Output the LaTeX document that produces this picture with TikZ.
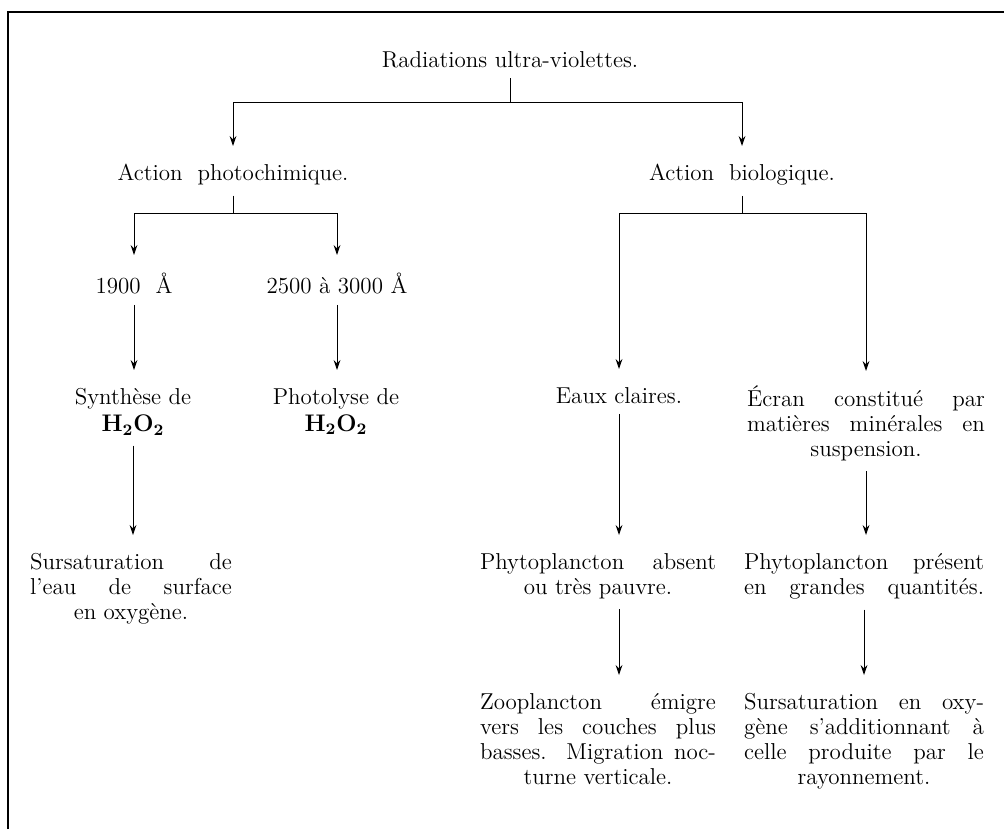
\documentclass[tikz,border=0pt]{standalone}
\usepackage{amsmath}
\usepackage{tikz}
\usetikzlibrary{arrows.meta}

% derniere ligne centree dans un bloc justifie
\newcommand{\milieu}[1]{\makebox[\hsize][c]{#1}}

\begin{document}
\begin{tikzpicture}[x=0.5pt, y=-0.5pt,
    txt/.style={anchor=north, inner sep=0pt, font=\fontsize{11.5}{12.5}\selectfont},
    blk/.style={txt, align=justify, text width=#1,
      execute at begin node={\tolerance=10000 \hbadness=10000}},
    lien/.style={line width=0.5pt},
    fleche/.style={lien, -{Stealth[length=5pt, width=3.4pt]}, shorten >=9pt},
    de/.style={shorten <=5pt}]
  \useasboundingbox (0,0) rectangle (1004,829);
  % cadre
  \draw[line width=1.1pt] (8,829) -- (8,12) -- (1004,12);

  % textes
  \node[txt] (rad) at (510,51) {Radiations ultra-violettes.};
  \node[txt] (photo) at (233,164) {Action\ \ photochimique.};
  \node[txt] (bio) at (742,164) {Action\ \ biologique.};
  \node[txt] (a1900) at (134,273) {1900\ \ Å};
  \node[txt] (a2500) at (337,273) {2500 à 3000 Å};
  \node[txt, align=center] (synth) at (133,388) {Synthèse de\\[1pt]$\mathbf{H_2O_2}$};
  \node[txt, align=center] (photol) at (336,388) {Photolyse de\\[1pt]$\mathbf{H_2O_2}$};
  \node[blk=101pt] (sursatA) at (131,553) {Sursaturation de\linebreak l'eau de surface\linebreak\milieu{en oxygène.}};
  \node[txt] (eaux) at (619,387) {Eaux claires.};
  \node[blk=119pt] (ecran) at (866,385) {Écran constitué par\linebreak matières minérales en\linebreak\milieu{suspension.}};
  \node[blk=118pt] (phyA) at (598,553) {Phytoplancton absent\linebreak\milieu{ou très pauvre.}};
  \node[blk=120pt] (phyP) at (864,553) {Phytoplancton présent\linebreak\makebox[\hsize][s]{en grandes quantités.}};
  \node[blk=118pt] (zoo) at (598,693) {Zooplancton émigre\linebreak vers les couches plus\linebreak basses. Migration noc-\linebreak\milieu{turne verticale.}};
  \node[blk=120pt] (sursatB) at (864,693) {Sursaturation en oxy-\linebreak gène s'additionnant à\linebreak celle produite par le\linebreak\milieu{rayonnement.}};

  % embranchements
  \coordinate (j1) at (510,102);
  \coordinate (j2) at (233,213);
  \coordinate (j3) at (742,213);

  \draw[lien, de] (rad) -- (j1);
  \draw[lien] (j1 -| photo) -- (j1 -| bio);
  \draw[fleche] (j1 -| photo) -- (photo);
  \draw[fleche] (j1 -| bio) -- (bio);

  \draw[lien, de] (photo) -- (photo |- j2);
  \draw[lien] (j2 -| a1900) -- (j2 -| a2500);
  \draw[fleche] (j2 -| a1900) -- (a1900);
  \draw[fleche] (j2 -| a2500) -- (a2500);

  \draw[lien, de] (bio) -- (bio |- j3);
  \draw[lien] (j3 -| eaux) -- (j3 -| ecran);
  \draw[fleche] (j3 -| eaux) -- (eaux);
  \draw[fleche, shorten >=7pt] (j3 -| ecran) -- (ecran);

  \draw[fleche, de] (a1900) -- (a1900 |- synth.north);
  \draw[fleche, de] (a2500) -- (a2500 |- photol.north);
  \draw[fleche, de] (synth) -- (synth |- sursatA.north);
  \draw[fleche, de] (eaux) -- (eaux |- phyA.north);
  \draw[fleche, de] (ecran) -- (ecran |- phyP.north);
  \draw[fleche, de] (phyA.south -| eaux) -- (zoo.north -| eaux);
  \draw[fleche, de] (phyP) -- (phyP |- sursatB.north);
\end{tikzpicture}
\end{document}
